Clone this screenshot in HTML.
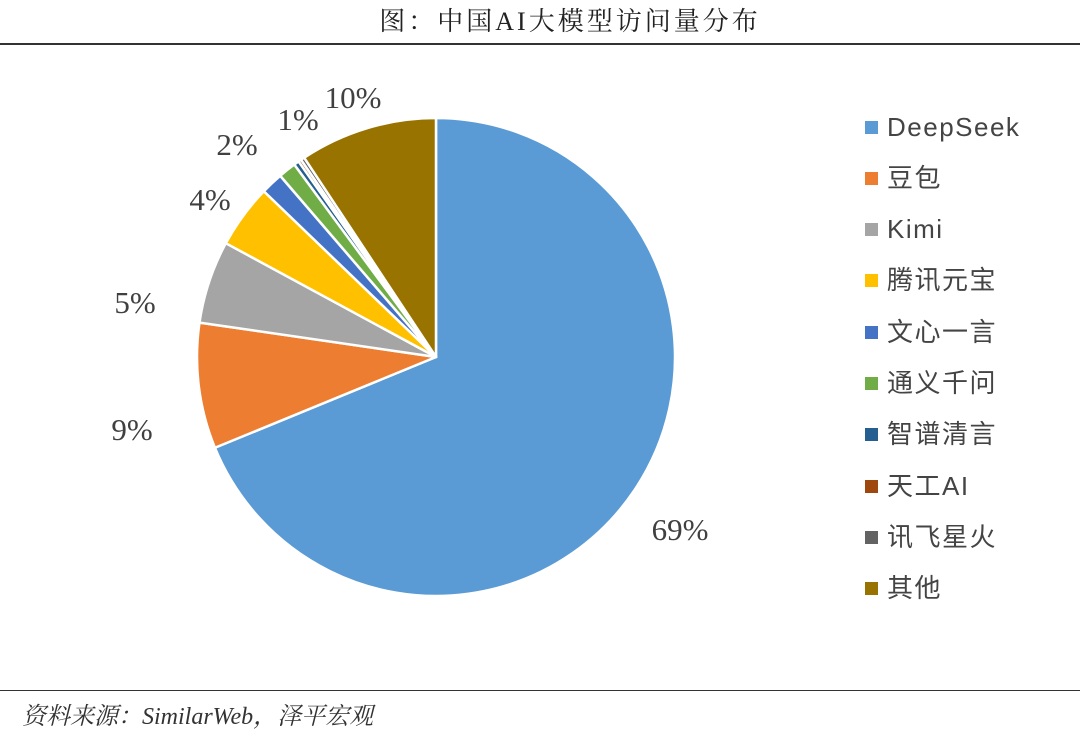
<!DOCTYPE html>
<html><head><meta charset="utf-8"><style>
body{margin:0;width:1080px;height:731px;background:#fff;overflow:hidden;position:relative;font-family:"Liberation Sans","Noto Sans CJK SC",sans-serif}
.t{position:absolute;left:0;width:1140px;text-align:center;top:4px;font-size:26px;letter-spacing:3px;line-height:36px;color:#222;font-family:"Liberation Serif","Noto Serif CJK SC",serif}
.hl{position:absolute;left:0;width:1080px;height:2px;background:#333}
.lab{position:absolute;font-family:"Liberation Serif",serif;font-size:31px;color:#404040;transform:translate(-50%,-50%)}
.lg{position:absolute;left:865px;font-size:26px;line-height:30px;height:30px;color:#444;letter-spacing:1.5px;font-family:"Liberation Sans","Noto Sans CJK SC",sans-serif;white-space:nowrap}
.lg i{display:inline-block;width:13px;height:13px;margin-right:9px;vertical-align:middle;position:relative;top:-2px}
.src{position:absolute;left:22px;top:696px;font-size:24px;font-style:italic;color:#333;font-family:"Liberation Serif","Noto Serif CJK SC",serif}
</style></head><body>
<div class="t">图：中国AI大模型访问量分布</div>
<div class="hl" style="top:43px"></div>
<div class="hl" style="top:690px;height:1px"></div>
<svg id="pie" width="1080" height="731" style="position:absolute;left:0;top:0"></svg>
<div class="lab" style="left:680px;top:530px">69%</div>
<div class="lab" style="left:132px;top:430px">9%</div>
<div class="lab" style="left:135px;top:303px">5%</div>
<div class="lab" style="left:210px;top:200px">4%</div>
<div class="lab" style="left:237px;top:145px">2%</div>
<div class="lab" style="left:298px;top:120px">1%</div>
<div class="lab" style="left:353px;top:98px">10%</div>
<div class="lg" style="top:112px"><i style="background:#5b9bd5"></i>DeepSeek</div>
<div class="lg" style="top:163px"><i style="background:#ed7d31"></i>豆包</div>
<div class="lg" style="top:214px"><i style="background:#a5a5a5"></i>Kimi</div>
<div class="lg" style="top:265px"><i style="background:#ffc000"></i>腾讯元宝</div>
<div class="lg" style="top:317px"><i style="background:#4472c4"></i>文心一言</div>
<div class="lg" style="top:368px"><i style="background:#70ad47"></i>通义千问</div>
<div class="lg" style="top:419px"><i style="background:#255e91"></i>智谱清言</div>
<div class="lg" style="top:471px"><i style="background:#9e480e"></i>天工AI</div>
<div class="lg" style="top:522px"><i style="background:#636363"></i>讯飞星火</div>
<div class="lg" style="top:573px"><i style="background:#997300"></i>其他</div>
<div class="src">资料来源：SimilarWeb，泽平宏观</div>
<script>
var d=[[68.8,"#5b9bd5"],[8.5,"#ed7d31"],[5.6,"#a5a5a5"],[4.3,"#ffc000"],[1.5,"#4472c4"],[1.2,"#70ad47"],[0.35,"#255e91"],[0.2,"#9e480e"],[0.25,"#636363"],[9.3,"#997300"]];
var cx=436,cy=357,r=239,a=0,s="";
d.forEach(function(x){
var a0=a,a1=a+x[0]*Math.PI/50;
var x0=cx+r*Math.sin(a0),y0=cy-r*Math.cos(a0),x1=cx+r*Math.sin(a1),y1=cy-r*Math.cos(a1);
s+='<path d="M'+cx+' '+cy+'L'+x0+' '+y0+'A'+r+' '+r+' 0 '+((a1-a0)>Math.PI?1:0)+' 1 '+x1+' '+y1+'Z" fill="'+x[1]+'" stroke="#fff" stroke-width="2.5" stroke-linejoin="round"/>';
a=a1;});
document.getElementById("pie").innerHTML=s;
</script>
</body></html>
